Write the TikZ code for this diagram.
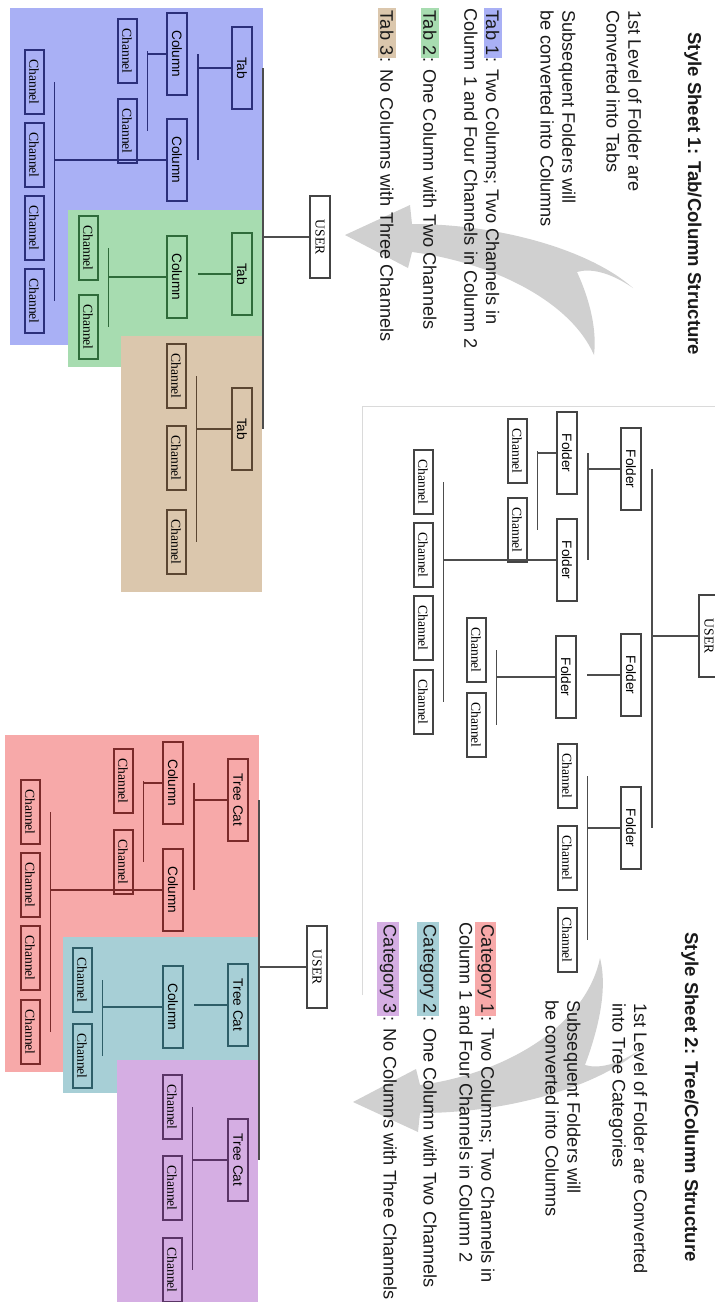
\documentclass[tikz,border=0pt]{standalone}
\usepackage{fontspec}
\setmainfont{Liberation Sans}
\newfontfamily\chanfont{Liberation Serif}
\usetikzlibrary{calc}

\definecolor{tabblue}{HTML}{A9B0F5}
\definecolor{tabblueln}{HTML}{2B2F7A}
\definecolor{tabgreen}{HTML}{A7DCB0}
\definecolor{tabgreenln}{HTML}{2F6B3A}
\definecolor{tabtan}{HTML}{DBC7AD}
\definecolor{tabtanln}{HTML}{5B4632}
\definecolor{catred}{HTML}{F7A9A9}
\definecolor{catredln}{HTML}{7A2A2A}
\definecolor{catteal}{HTML}{A7CFD6}
\definecolor{cattealln}{HTML}{2E5E68}
\definecolor{catviolet}{HTML}{D5AEE3}
\definecolor{catvioletln}{HTML}{5A3466}
\definecolor{boxgray}{HTML}{444444}
\definecolor{linegray}{HTML}{4D4D4D}
\definecolor{framegray}{HTML}{DADADA}
\definecolor{swoosh}{HTML}{D0D0D0}
\definecolor{textgray}{HTML}{1A1A1A}
\setlength{\fboxsep}{1.2pt}

\begin{document}
\begin{tikzpicture}[x=0.5pt, y=-0.5pt,
            every node/.style={inner sep=0pt},
            box/.style={draw, rotate=-90, line width=1pt, minimum width=41pt,
                minimum height=10pt, font=\fontsize{6.8}{7}\selectfont},
            chan/.style={box, minimum width=32pt, minimum height=9.5pt,
                font=\chanfont\fontsize{6.8}{7}\selectfont},
            user/.style={box, fill=white, draw=boxgray, font=\chanfont\fontsize{6.8}{7}\selectfont},
            folder/.style={fill=white, draw=boxgray},
            tabone/.style={fill=tabblue, draw=tabblueln},
            tabtwo/.style={fill=tabgreen, draw=tabgreenln},
            tabthree/.style={fill=tabtan, draw=tabtanln},
            catone/.style={fill=catred, draw=catredln},
            cattwo/.style={fill=catteal, draw=cattealln},
            catthree/.style={fill=catviolet, draw=catvioletln},
            bus/.style={line width=0.8pt},
            txt/.style={rotate=-90, anchor=west, align=left, text=textgray,
                font=\fontsize{9.1}{10.8}\selectfont},
            title/.style={txt, font=\fontsize{9.3}{10.8}\selectfont\bfseries}]
        \useasboundingbox (0,0) rectangle (715,1302);
        \clip (0,0) rectangle (715,1302);
        % coloured areas
        \fill[tabblue] (10,8) rectangle (263,345);
        \fill[tabgreen] (68,210) rectangle (263,367);
        \fill[tabtan] (121,336) rectangle (262,592);
        \fill[catred] (5,735) rectangle (259,1072);
        \fill[catteal] (63,937) rectangle (258,1093);
        \fill[catviolet] (117,1060) rectangle (258,1302);
        % big grey arrows with split tails
        \fill[swoosh] (345,235) -- (410,205) -- (412,224) .. controls (500,224) and (590,250) .. (633,288)
            .. controls (610,272) and (590,268) .. (577,272) .. controls (590,300) and (597,330) .. (594,355)
            .. controls (570,300) and (490,262) .. (412,252) -- (408,268) -- cycle;
        \fill[swoosh] (353,1102) -- (418,1132) -- (420,1113) .. controls (508,1113) and (598,1087) .. (641,1049)
            .. controls (618,1065) and (598,1069) .. (585,1065) .. controls (598,1030) and (608,990) .. (600,958)
            .. controls (585,1030) and (498,1075) .. (420,1085) -- (416,1069) -- cycle;
        \draw[framegray] (362,995) -- (362,406) -- (715,406);

        % style sheet 1
        \node[title] (title1) at (693,32) {Style Sheet 1: Tab/Column Structure};
        \node[txt] (note11) at (624,10) {1st Level of Folder are\\Converted into Tabs};
        \node[txt] (note12) at (558,10) {Subsequent Folders will\\be converted into Columns};
        \node[txt] (note13) at (483,8) {\colorbox{tabblue}{Tab 1}: Two Columns; Two Channels in\\Column 1 and Four Channels in Column 2};
        \node[txt] (note14) at (430,8) {\colorbox{tabgreen}{Tab 2}: One Column with Two Channels};
        \node[txt] (note15) at (387,8) {\colorbox{tabtan}{Tab 3}: No Columns with Three Channels};

        \node[user] (usr1) at (320,237) {USER};
        \node[box, tabone] (t1) at (242,68) {Tab};
        \node[box, tabtwo] (t2) at (242,274) {Tab};
        \node[box, tabthree] (t3) at (242,429) {Tab};
        \node[box, tabone] (t1c1) at (177,54) {Column};
        \node[box, tabone] (t1c2) at (177,160) {Column};
        \node[box, tabtwo] (t2c1) at (177,277) {Column};
        \node[chan, tabone] (t1c1a) at (127,51) {Channel};
        \node[chan, tabone] (t1c1b) at (127,131) {Channel};
        \node[chan, tabone] (t1c2a) at (34,82) {Channel};
        \node[chan, tabone] (t1c2b) at (34,155) {Channel};
        \node[chan, tabone] (t1c2c) at (34,228) {Channel};
        \node[chan, tabone] (t1c2d) at (34,301) {Channel};
        \node[chan, tabtwo] (t2c1a) at (88,248) {Channel};
        \node[chan, tabtwo] (t2c1b) at (88,327) {Channel};
        \node[chan, tabthree] (t3a) at (176,376) {Channel};
        \node[chan, tabthree] (t3b) at (176,458) {Channel};
        \node[chan, tabthree] (t3c) at (176,542) {Channel};

        \draw[bus, linegray] (t1.north) ++(10,0) coordinate (u1) -- (u1 |- t3.north)
            (usr1.south) -- (usr1.south -| u1);
        \draw[bus, tabblueln] (t1c1.north) ++(10,0) coordinate (b1) -- (b1 |- t1c2.north)
            (t1.south) -- (t1.south -| b1);
        \draw[bus, tabblueln] (t1c1a.north) ++(10,0) coordinate (b2) -- (b2 |- t1c1b.north)
            (t1c1.south) -- (t1c1.south -| b2);
        \draw[bus, tabblueln] (t1c2a.north) ++(10,0) coordinate (b3) -- (b3 |- t1c2d.north)
            (t1c2.south) -- (t1c2.south -| b3);
        \draw[bus, tabgreenln] (t2c1.north) ++(10,0) coordinate (b4)
            (t2.south) -- (t2.south -| b4);
        \draw[bus, tabgreenln] (t2c1a.north) ++(10,0) coordinate (b5) -- (b5 |- t2c1b.north)
            (t2c1.south) -- (t2c1.south -| b5);
        \draw[bus, tabtanln] (t3a.north) ++(10,0) coordinate (b6) -- (b6 |- t3c.north)
            (t3.south) -- (t3.south -| b6);

        % original folders
        \node[user] (usr2) at (709,636) {USER};
        \node[box, folder] (f1) at (631,469) {Folder};
        \node[box, folder] (f2) at (631,675) {Folder};
        \node[box, folder] (f3) at (631,828) {Folder};
        \node[box, folder] (f11) at (567,453) {Folder};
        \node[box, folder] (f12) at (567,560) {Folder};
        \node[box, folder] (f21) at (566,677) {Folder};
        \node[chan, folder] (f11a) at (517,451) {Channel};
        \node[chan, folder] (f11b) at (517,530) {Channel};
        \node[chan, folder] (f12a) at (423,482) {Channel};
        \node[chan, folder] (f12b) at (423,555) {Channel};
        \node[chan, folder] (f12c) at (423,628) {Channel};
        \node[chan, folder] (f12d) at (423,702) {Channel};
        \node[chan, folder] (f21a) at (476,650) {Channel};
        \node[chan, folder] (f21b) at (476,725) {Channel};
        \node[chan, folder] (f3a) at (567,776) {Channel};
        \node[chan, folder] (f3b) at (567,858) {Channel};
        \node[chan, folder] (f3c) at (567,940) {Channel};

        \draw[bus, linegray] (f1.north) ++(10,0) coordinate (u2) -- (u2 |- f3.north)
            (usr2.south) -- (usr2.south -| u2);
        \draw[bus, linegray] (f11.north) ++(10,0) coordinate (g1) -- (g1 |- f12.north)
            (f1.south) -- (f1.south -| g1);
        \draw[bus, linegray] (f11a.north) ++(10,0) coordinate (g2) -- (g2 |- f11b.north)
            (f11.south) -- (f11.south -| g2);
        \draw[bus, linegray] (f12a.north) ++(10,0) coordinate (g3) -- (g3 |- f12d.north)
            (f12.south) -- (f12.south -| g3);
        \draw[bus, linegray] (f21.north) ++(10,0) coordinate (g4)
            (f2.south) -- (f2.south -| g4);
        \draw[bus, linegray] (f21a.north) ++(10,0) coordinate (g5) -- (g5 |- f21b.north)
            (f21.south) -- (f21.south -| g5);
        \draw[bus, linegray] (f3a.north) ++(10,0) coordinate (g6) -- (g6 |- f3c.north)
            (f3.south) -- (f3.south -| g6);

        % style sheet 2
        \node[title] (title2) at (690,932) {Style Sheet 2: Tree/Column Structure};
        \node[txt] (note21) at (628,1003) {1st Level of Folder are Converted\\into Tree Categories};
        \node[txt] (note22) at (563,1000) {Subsequent Folders will\\be converted into Columns};
        \node[txt] (note23) at (478,922) {\colorbox{catred}{Category 1}: Two Columns; Two Channels in\\Column 1 and Four Channels in Column 2};
        \node[txt] (note24) at (428,922) {\colorbox{catteal}{Category 2}: One Column with Two Channels};
        \node[txt] (note25) at (388,922) {\colorbox{catviolet}{Category 3}: No Columns with Three Channels};

        \node[user] (usr3) at (317,967) {USER};
        \node[box, catone] (c1) at (238,800) {Tree Cat};
        \node[box, cattwo] (c2) at (238,1005) {Tree Cat};
        \node[box, catthree] (c3) at (238,1160) {Tree Cat};
        \node[box, catone] (c1c1) at (173,783) {Column};
        \node[box, catone] (c1c2) at (173,890) {Column};
        \node[box, cattwo] (c2c1) at (173,1007) {Column};
        \node[chan, catone] (c1c1a) at (123,781) {Channel};
        \node[chan, catone] (c1c1b) at (123,862) {Channel};
        \node[chan, catone] (c1c2a) at (30,812) {Channel};
        \node[chan, catone] (c1c2b) at (30,885) {Channel};
        \node[chan, catone] (c1c2c) at (30,958) {Channel};
        \node[chan, catone] (c1c2d) at (30,1032) {Channel};
        \node[chan, cattwo] (c2c1a) at (82,980) {Channel};
        \node[chan, cattwo] (c2c1b) at (82,1056) {Channel};
        \node[chan, catthree] (c3a) at (172,1107) {Channel};
        \node[chan, catthree] (c3b) at (172,1188) {Channel};
        \node[chan, catthree] (c3c) at (172,1270) {Channel};

        \draw[bus, linegray] (c1.north) ++(10,0) coordinate (u3) -- (u3 |- c3.north)
            (usr3.south) -- (usr3.south -| u3);
        \draw[bus, catredln] (c1c1.north) ++(10,0) coordinate (k1) -- (k1 |- c1c2.north)
            (c1.south) -- (c1.south -| k1);
        \draw[bus, catredln] (c1c1a.north) ++(10,0) coordinate (k2) -- (k2 |- c1c1b.north)
            (c1c1.south) -- (c1c1.south -| k2);
        \draw[bus, catredln] (c1c2a.north) ++(10,0) coordinate (k3) -- (k3 |- c1c2d.north)
            (c1c2.south) -- (c1c2.south -| k3);
        \draw[bus, cattealln] (c2c1.north) ++(10,0) coordinate (k4)
            (c2.south) -- (c2.south -| k4);
        \draw[bus, cattealln] (c2c1a.north) ++(10,0) coordinate (k5) -- (k5 |- c2c1b.north)
            (c2c1.south) -- (c2c1.south -| k5);
        \draw[bus, catvioletln] (c3a.north) ++(10,0) coordinate (k6) -- (k6 |- c3c.north)
            (c3.south) -- (c3.south -| k6);
\end{tikzpicture}
\end{document}
